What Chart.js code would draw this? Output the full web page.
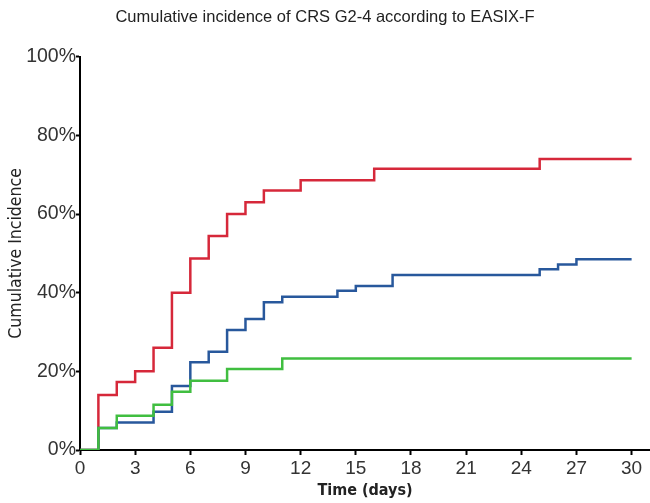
<!DOCTYPE html>
<html>
<head>
<meta charset="utf-8">
<script src="https://cdn.jsdelivr.net/npm/chart.js@4"></script>
<style>
  html, body { margin: 0; padding: 0; background: #fff; }
</style>
</head>
<body>
<canvas id="cif" width="650" height="503"></canvas>
<script>
// step points (day, cumulative incidence %)
const redDays = [0, 1, 2, 3, 4, 5, 6, 7, 8, 9, 10, 12, 16, 25, 30];
const redCI = [0, 14, 17.3, 20, 26, 40, 48.7, 54.4, 60, 63, 66, 68.6, 71.5, 74, 74];

const blueDays = [0, 1, 2, 4, 5, 6, 7, 8, 9, 10, 11, 14, 15, 17, 25, 26, 27, 30];
const blueCI = [0, 5.6, 7, 9.7, 16.3, 22.3, 25, 30.5, 33.3, 37.6, 39, 40.5, 41.7, 44.5, 46, 47.2, 48.5, 48.5];

const greenDays = [0, 1, 2, 4, 5, 6, 8, 11, 30];
const greenCI = [0, 5.6, 8.7, 11.5, 14.8, 17.6, 20.6, 23.3, 23.3];

const yTicks = [0, 20, 40, 60, 80, 100];
const xTicks = [0, 3, 6, 9, 12, 15, 18, 21, 24, 27, 30];

const toPts = (xs, ys) => xs.map((x, i) => ({ x: x, y: ys[i] }));

const narrow = "'Liberation Sans Narrow', 'DejaVu Sans Condensed', sans-serif";
const sans = "'Liberation Sans', Arial, sans-serif";

const line = (pts, color) => ({
  data: pts,
  borderColor: color,
  backgroundColor: color,
  borderWidth: 2.5,
  stepped: true,
  pointRadius: 0,
  fill: false,
});

const ctx = document.getElementById("cif").getContext("2d");
const chart = new Chart(ctx, {
  type: "line",
  data: {
    datasets: [
      line(toPts(greenDays, greenCI), "rgb(64,190,64)"),
      line(toPts(blueDays, blueCI), "rgb(40,88,156)"),
      line(toPts(redDays, redCI), "rgb(214,40,58)"),
    ],
  },
  options: {
    responsive: false,
    devicePixelRatio: 1,
    animation: false,
    layout: { padding: 0 },
    plugins: {
      legend: { display: false },
      tooltip: { enabled: false },
      title: {
        display: true,
        text: "Cumulative incidence of CRS G2-4 according to EASIX-F",
        color: "#222",
        font: { family: sans, size: 16.5, weight: "normal" },
        padding: { top: 8, bottom: 29 },
      },
    },
    scales: {
      x: {
        type: "linear",
        min: 0,
        max: 31,
        afterBuildTicks: (scale) => {
          scale.ticks = xTicks.map((v) => ({ value: v }));
        },
        afterFit: (scale) => {
          scale.height = 53;
        },
        ticks: {
          color: "#333",
          padding: 2,
          maxRotation: 0,
          font: { family: sans, size: 19 },
        },
        grid: {
          drawOnChartArea: false,
          drawTicks: true,
          tickLength: 5,
          tickColor: "#000",
          tickWidth: 2,
        },
        border: { display: true, color: "#000", width: 2 },
        title: {
          display: true,
          text: "Time (days)",
          color: "#222",
          font: { family: narrow, size: 16, weight: "bold" },
          padding: { top: 0, bottom: 3 },
        },
      },
      y: {
        min: 0,
        max: 100,
        afterBuildTicks: (scale) => {
          scale.ticks = yTicks.map((v) => ({ value: v }));
        },
        afterFit: (scale) => {
          scale.width = 80;
        },
        ticks: {
          color: "#333",
          padding: 0,
          callback: (v) => v + "%",
          font: { family: sans, size: 19.5 },
        },
        grid: {
          drawOnChartArea: false,
          drawTicks: true,
          tickLength: 4,
          tickColor: "#000",
          tickWidth: 2,
        },
        border: { display: true, color: "#000", width: 2 },
        title: {
          display: true,
          text: "Cumulative Incidence",
          color: "#222",
          font: { family: narrow, size: 17.5, weight: "normal" },
          padding: { top: 6, bottom: 0 },
        },
      },
    },
  },
});
</script>
</body>
</html>
